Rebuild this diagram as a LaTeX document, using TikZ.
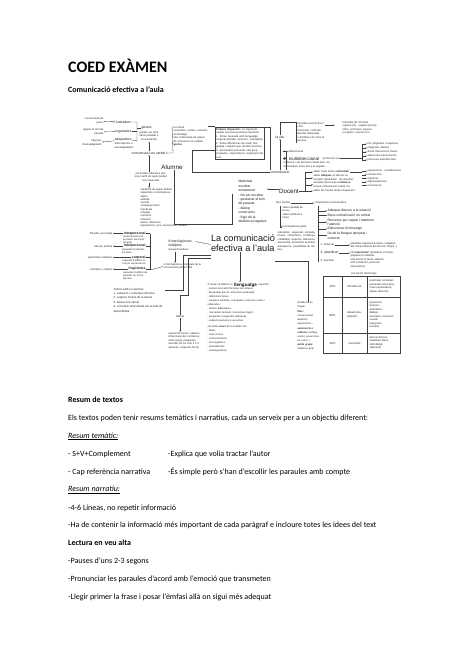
\documentclass[tikz,border=0pt]{standalone}
\usepackage{fontspec}
\setmainfont{Carlito}
\newfontfamily\mapfont{Liberation Sans}
\usetikzlibrary{arrows.meta,positioning}

\tikzset{
	tx/.style={font=\mapfont\fontsize{2.7}{3.5}\selectfont,inner sep=0.3pt,align=left,text=black!85},
	sm/.style={font=\mapfont\fontsize{3.4}{4.4}\selectfont,inner sep=0.3pt,align=left,text=black!90},
	md/.style={font=\mapfont\fontsize{4.4}{5.3}\selectfont,inner sep=0.3pt,align=left,text=black!90},
	bg/.style={font=\mapfont\fontsize{6.2}{7}\selectfont,inner sep=0.3pt,text=black!90},
	ttl/.style={font=\mapfont\fontsize{9.2}{10.6}\selectfont,inner sep=0.3pt,align=left,text=black!90},
	ln/.style={draw=black!75,line width=0.35pt},
	ar/.style={ln,-{Latex[length=1.4pt,width=1.2pt]}},
	body/.style={font=\fontsize{8}{10}\selectfont,anchor=base west,inner sep=0pt},
}

\begin{document}
\begin{tikzpicture}[x=1pt,y=-1pt]
\useasboundingbox (0,0) rectangle (474,670);

\node[body,font=\bfseries\fontsize{16}{19}\selectfont] (titol) at (68,72.5) {COED EXÀMEN};
\node[body,font=\bfseries\fontsize{8}{10}\selectfont] (subtitol) at (68,92) {Comunicació efectiva a l’aula};

% gestos
\node[sm,anchor=west] (il) at (113,122) {il·lustradors};
\node[sm,anchor=west] (reg) at (115,131.5) {reguladors};
\node[sm,anchor=west] (adp) at (114,140) {adaptadors};
\node[tx,anchor=north west] (adpx) at (114,142.5) {amb objectes o\\autoadaptadors};
\node[tx,anchor=east,align=right] (ilx) at (104,121) {comunicació de\\pares};
\node[tx,anchor=east,align=right] (regx) at (104,132) {regular el torn de\\paraula};
\node[tx,anchor=east,align=right] (adpl) at (102,143) {objectes\\d’autoadaptació};
\foreach \u \v in {il/ilx,reg/regx,adp/adpl}{
	\draw[ar] (\u) -- (\v);
}
\node[sm,anchor=west] (gest) at (141,128) {gestos};
\node[tx,anchor=north,align=center] (gestx) at (149,131) {(poden ser amb\\intencionalitat o\\inconscients)};
\draw[ln] (il.east) -| (137,141) -- (adp.east);
\draw[ln] (reg.east) -- (137,131.5);
\draw[ln] (137,128) -- (gest.west);
\node[sm,anchor=west] (cnv) at (131,153) {comunicació no verbal};
\draw[ar] (cnv.north -| gestx) -- (gestx.south);

\node[tx,anchor=north west] (cult) at (173,126) {la cultura\\economia, context i costums\\el missatge\\vies contextuals de signes\\de comunicar no verbals\\\textbf{gestos}};
\node[tx,draw=black!75,line width=0.3pt,anchor=north west,text width=47pt,inner sep=1pt] (prim) at (215,127) {\textbf{Primera impressió:} és important causar una bona primera impressió\\1. Donar resposta amb llenguatge corporal (mirada, somriure, naturalitat)\\2. Evitar diferències de nivell, llenguatge i registre que alt dels alumnes\\3. presentació personal i del grup, programa, expectatives i explicació del curs};
\draw[ar] (cult.north west) ++(-1,0) -- (cult.north west |- cnv.east) -- (cnv.east);
\draw[ln] (cult.north east) -- (cult.north east -| prim.west);

% veu i comunicacio
\node[sm,anchor=west] (veu) at (275,137) {la veu};
\node[sm,anchor=west] (comu) at (270,172) {comunicació};
\node[tx,anchor=west] (unid) at (283,151.5) {1. unidireccional};
\node[md,anchor=west] (multi) at (283,158.5) {2. multidireccional};
\node[tx,anchor=north west] (multix) at (283,161.5) {el docent i els alumnes interactuen i es\\comuniquen entre ells a la vegada};
\node[tx,anchor=west] (multiy) at (322,158.5) {(el docent i els};
\draw[ar] (comu.north -| veu) -- (veu.south);
\draw[ln] (comu.west) -| (192,150) -- (prim.west |- 0,150);
\draw[ln] (prim.north east) -| (comu.north west);
\draw[ln] (comu.north east) ++(-4,0) |- (unid.west);
\draw[ln] (comu.north east) ++(-4,0) |- (multi.west);

\node[tx,anchor=north west] (veux) at (296,122) {Intensitat (volum) fluix /\\o fort\\pronunciar i articular\\velocitat adequada\\to d’èmfasi i de mirar la\\persona};
\node[tx,anchor=north west] (veuy) at (342,121) {Intensitat de l’emissió\\registre (to) · registre (locus)\\ritme, entonació, pauses\\no repetir, canviar el to};
\draw[ln] (veu.north) |- (veux.north west) -- (veux.south west);
\draw[ar] (veux.east |- veuy.north) ++(0,4) -- ++(10,0);

\foreach[count=\i] \t in {Fer preguntes i respostes,preguntes obertes,donar instruccions clares,valorar les intervencions,promoure aprendre fent}{
	\node[tx,anchor=west] (mr\i) at (367,140+4*\i) {\t};
	\draw[ar] (362,140+4*\i) -- (mr\i.west);
}
\draw[ln] (multiy.east) -- (362,158.5);
\draw[ln] (mr1.west) ++(-5,0) -- (362,160);

\node[bg] (alum) at (172,167) {Alumne};
\node[bg] (doc) at (289,191) {Docent};

% docent
\node[tx,anchor=west] (d1) at (313,172) {saber crear entorn \textbf{motivador}};
\node[tx,anchor=north west] (d2) at (313,174.5) {saber \textbf{adequar} un discurs al\\receptor (feed-back · de docents)};
\node[tx,anchor=north west] (d3) at (313,181.5) {acceptar discurs de \textbf{confiança}\\la teva comunicació verbal i la};
\node[tx,anchor=west] (d4) at (313,191) {saber fer l’ús del temps d’aprenent};
\foreach \v in {d1,d2,d3,d4}{
	\draw[ar] (305,0 |- \v.west) -- (\v.west);
}
\draw[ln] (305,172) -- (305,191);
\draw[ln] (doc.east) -- (305,191);
\foreach[count=\i] \t in {expressions · coordinacions,motivacions,rigorosos,argumentacions,conclusions}{
	\node[tx,anchor=west] (dr\i) at (367,167.5+3.6*\i) {\t};
	\draw[ar] (362,167.5+3.6*\i) -- (dr\i.west);
}
\draw[ln] (d1.east) -- (362,172);

\node[sm,anchor=north west] (esc) at (238,180) {Materials\\escoltar\\activament\\- No ser escoltar\\- gestionar el torn\\de paraula\\- diàleg\\constructiu\\- fugir de la\\dialèctica negativa};
\draw[ar] (doc.west) ++(0,-2) -- (esc.east |- 0,189);
\draw[ln] (alum.south) ++(2,0) |- ([xshift=-6pt]esc.south west) -- ([xshift=-6pt,yshift=-14pt]esc.north west);

\node[tx,anchor=west] (bm) at (276,203) {Bon mestre};
\node[tx,anchor=west] (comp) at (314,203) {competència comunicativa};
\draw[ar] (bm.east) -- (comp.west);
\foreach[count=\i] \t/\y in {Adequar discurs a la situació/211,Bona comunicació no verbal/215.5,Recursos per captar i mantenir\\l’atenció/222,Estructurar el missatge/229,Ús de la llengua apropiat i\\correcte/235.5}{
	\node[sm,anchor=west] (cc\i) at (327,\y) {\t};
	\draw[ar] (318,\y) -- (cc\i.west);
}
\draw[ln] (318,206) -- (318,262);
\node[tx,anchor=north west] (bmx) at (282,206) {valors qualitat de\\la veu\\valors ambient a\\l’aula};
\node[tx,anchor=west] (bmy) at (281,227) {la competència parla};
\draw[ln] (bmx.north west) ++(-1.5,0) |- (bmy.west);
\node[tx,anchor=north west,text width=38pt,align=justify] (qual) at (277,231) {naturalitat, seguretat, empatia, il·lusió, coherència, confiança, credibilitat, respecte, tolerància, assertivitat, proximitat, autoritat, entusiasme, possibilitat de millora};

\node[tx,anchor=west] (obs) at (320,245) {1. observar};
\node[sm,anchor=west] (plan) at (320,253) {2. planificar};
\node[tx,anchor=west] (prac) at (320,261) {3. practicar};
\node[tx,anchor=west] (obsx) at (350,245.5) {(analitzar aspectes positius i negatius\\del comportament del docent, temps...)};
\node[tx,anchor=north west] (planx) at (350,251) {No \textbf{improvisar}! (planificar el temps,\\preparar el material,\\estructurar el tema, ordenar\\el fil conductor, preveure\\imprevistos)};
\draw[ar] (obs.east) -- (obsx.west |- obs.east);
\draw[ar] (plan.east) -- (planx.west |- plan.east);

% intel·ligencies
\node[tx,anchor=north west,align=center] (mod) at (134,172) {els models alterats a que\\tenen amb els quals poden\\ser respectats};
\draw[ar] (mod.north -| gestx) -- (cnv.south -| gestx);
\node[tx,anchor=north west,font=\mapfont\fontsize{2.7}{3.3}\selectfont] (cap) at (140,188) {capacitat de seguir debats\\capacitats comunicatives\\valors\\actituds\\escolta\\companyerisme\\tolerància\\empatia\\memòria\\respecte\\idees i reflexions\\expressions, jocs, exposicions, treballs};
\draw[ar] (mod.south -| gestx) -- (cap.north -| gestx);

\foreach[count=\i] \n/\l/\y in {intrapersonal/{filosofia, psicologia}/233.5,interpersonal/{ciència, política}/246,corporal/{esportistes, ballarins}/257.5,lingüística/{escriptors, oratoris}/269}{
	\node[sm,anchor=east,font=\mapfont\bfseries\fontsize{3.4}{4.4}\selectfont] (int\i) at (146,\y) {\n};
	\node[tx,anchor=east] (intl\i) at (113,\y+0.5) {\l};
	\draw[ar] (int\i.west) -- (intl\i.east |- int\i.west);
	\draw[ln] (int\i.east) -- (150,\y);
}
\node[tx,anchor=north east,align=left,font=\mapfont\fontsize{2.5}{3}\selectfont] (intx1) at (145,235.5) {(autoconeixement,\\percebre emocions\\pròpies)};
\node[tx,anchor=north east,align=left,font=\mapfont\fontsize{2.5}{3}\selectfont] (intx2) at (145,248) {capacitat d’entendre\\els altres};
\node[tx,anchor=north east,align=left,font=\mapfont\fontsize{2.5}{3}\selectfont] (intx3) at (146,259.5) {capacitat d’utilitzar el\\cos per expressar-se};
\node[tx,anchor=north east,align=left,font=\mapfont\fontsize{2.5}{3}\selectfont] (intx4) at (148,271) {capacitat d’utilitzar les\\paraules de forma\\efectiva};
\draw[ln] (150,233.5) -- (150,270);

\node[sm,anchor=north west] (mult) at (168,239) {8 intel·ligències\\múltiples\\{\fontsize{2.5}{3.9}\selectfont(Howard Gardner)}};
\node[tx,anchor=north west] (quatre) at (163,263) {4 intel·ligències principals de la\\comunicació per a l’aula};
\draw[ar] (mult.south -| 175,0) -- (quatre.north -| 175,0);
\draw[ln] (150,270) -- (quatre.west);

\node[ttl] (centre) at (243,243) {La comunicació\\efectiva a l’aula};
\draw[ln] (mult.east |- centre.west) ++(3,-1.5) -- ([yshift=-1.5pt]centre.west);

% baix
\node[tx,anchor=north west,font=\mapfont\fontsize{2.9}{4.4}\selectfont] (tut) at (113,287.5) {Tutoria amb un alumne:\\1. salutació i comentari informal\\2. explicar motius de la tutoria\\3. deixar-lo/a opinar\\4. concretar amb ell/ella els acords de\\disponibilitat};
\node[tx,anchor=center,font=\mapfont\fontsize{3}{4}\selectfont] (debat) at (180,316.5) {debat};
\node[tx,anchor=north west] (debx) at (168,332) {(opinar de temes, objectiu\\d’intercanvi de contrastos,\\entre grups, preguntes,\\escoltar, fer-ho com 2 o 3\\alumnes, respectar torns)};
\draw[ar] (debat.south) -- (debx.north -| debat.south);
\draw[ln] (tut.north east) ++(2,2.5) -- (183,290) -- (183,255.5) -- (centre.south west |- 0,255.5);
\draw[ln] (debat.north) -- (180,295) -- (188,295) -- (188,258) -- (centre.south west |- 0,258);

\node[tx,anchor=west,font=\mapfont\fontsize{2.6}{4}\selectfont] (llena) at (207,285) {A l’aula cal utilitzar un};
\node[md,anchor=west,font=\mapfont\bfseries\fontsize{4.6}{5}\selectfont,right=0.4pt of llena] (llenb) {llenguatge};
\node[tx,anchor=west,font=\mapfont\fontsize{2.6}{4}\selectfont,right=0.4pt of llenb] (llenc) {específic:};
\node[tx,anchor=north west,font=\mapfont\fontsize{2.6}{4}\selectfont] (llen) at (207,287.5) {- instruccions amb fórmules de cortesia\\- llenguatge precís i estructura ordenada\\- definicions breus\\- paraules senzilles, conegudes i oracions curtes i\\ordenades\\- formes didàctiques\\- marcadors textuals i connectors lògics\\- preguntes i preguntes retòriques\\- subjecte personal i veu activa\\[2pt]cal evitar \textbf{errors} de la oralitat com:\\- faltes\\- mots crossa\\- crossa fonètica\\- tics lingüístics\\- redundàncies\\- estrangerismes};
\draw[ar] (centre.south) ++(-3,0) -- (llenb.north -| 240,0);

\node[tx,anchor=north west,font=\mapfont\fontsize{2.6}{3.9}\selectfont] (esp) at (297,301.5) {distribució de\\l’espai\\[1pt]\textbf{files :}\\convencional,\\auditoris,\\exposicions...\\[1pt]\textbf{semicercle o}\\\textbf{rotllana:} (Diàleg,\\reunió, posar totes\\en comú...)\\[1pt]\textbf{petits grups:}\\treball en grup};
\draw[ln] (centre.east |- 0,261) -- (308,261) -- (esp.north -| 308,0);

% taula
\node[tx] (temps) at (364,274) {(en funció del temps)};
\draw[ln] (323,276.5) rectangle (400,353);
\draw[ln] (342,276.5) -- (342,353);
\draw[ln] (367,276.5) -- (367,353);
\draw[ln] (323,297) -- (400,297);
\draw[ln] (323,333) -- (400,333);
\node[tx,font=\mapfont\fontsize{2.9}{4}\selectfont] (p1) at (332.5,286.5) {10\%};
\node[tx,font=\mapfont\fontsize{2.9}{4}\selectfont] (p2) at (332.5,315) {80\%};
\node[tx,font=\mapfont\fontsize{2.9}{4}\selectfont] (p3) at (332.5,343) {10\%};
\node[tx,font=\mapfont\fontsize{2.9}{4}\selectfont] (f1) at (354.5,286.5) {introducció};
\node[tx,font=\mapfont\fontsize{2.9}{4}\selectfont] (f2) at (354.5,315) {desenvolu-\\pament};
\node[tx,font=\mapfont\fontsize{2.9}{4}\selectfont] (f3) at (354.5,343) {conclusió};
\node[tx,anchor=north west] (c1) at (369,279.5) {(estimular curiositat,\\presentar estructura,\\crear expectatives,\\captar l’atenció)};
\node[tx,anchor=north west] (c2) at (369,301) {(exposició,\\lectures,\\anècdotes,\\diàlegs,\\exemples i recursos\\visuals,\\preguntes,\\resums)};
\node[tx,anchor=north west] (c3) at (369,336) {(tancar discurs,\\sintetitzar idees,\\obrir debat,\\valoració)};

% text
\node[body,font=\bfseries\fontsize{8}{10}\selectfont] (t1) at (68,402) {Resum de textos};
\node[body] (t2) at (68,420) {Els textos poden tenir resums temàtics i narratius, cada un serveix per a un objectiu diferent:};
\node[body] (t3) at (68,438) {\underline{\textit{Resum temàtic:}}};
\node[body] (t4) at (68,456) {- S+V+Complement};
\node[body] (t4b) at (168,456) {-Explica que volia tractar l’autor};
\node[body] (t5) at (68,474) {- Cap referència narrativa};
\node[body] (t5b) at (168,474) {-És simple però s’han d’escollir les paraules amb compte};
\node[body] (t6) at (68,491.5) {\underline{\textit{Resum narratiu:}}};
\node[body] (t7) at (68,510) {-4-6 Líneas, no repetir informació};
\node[body] (t8) at (68,527.5) {-Ha de contenir la informació més important de cada paràgraf e incloure totes les idees del text};
\node[body,font=\bfseries\fontsize{8}{10}\selectfont] (t9) at (68,545.5) {Lectura en veu alta};
\node[body] (t10) at (68,563) {-Pauses d’uns 2-3 segons};
\node[body] (t11) at (68,581) {-Pronunciar les paraules d’acord amb l’emoció que transmeten};
\node[body] (t12) at (68,599) {-Llegir primer la frase i posar l’èmfasi allà on sigui més adequat};

\end{tikzpicture}
\end{document}
